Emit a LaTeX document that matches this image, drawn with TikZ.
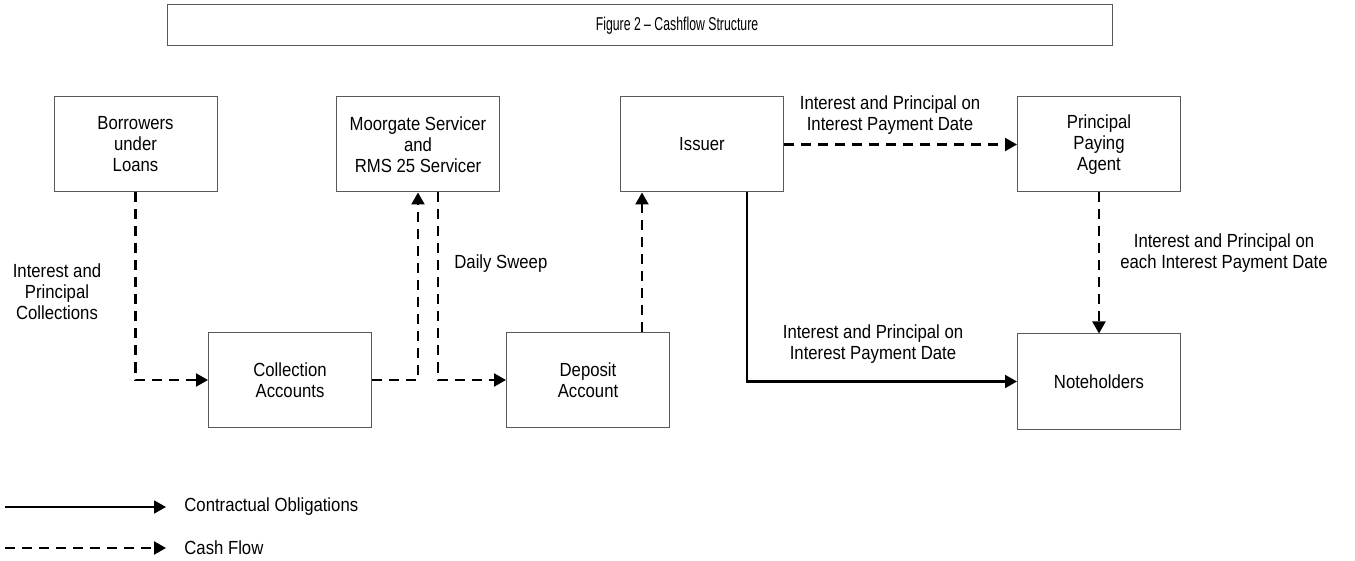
\documentclass[tikz,border=0pt]{standalone}
\usepackage{fontspec}
\setmainfont{Liberation Sans}[FakeStretch=0.88]
\newfontfamily\titlefont{Liberation Sans}[FakeStretch=0.66]
\usetikzlibrary{positioning,calc,arrows.meta}

\begin{document}
\begin{tikzpicture}[x=0.5pt,y=-0.5pt,
  font=\fontsize{9.5}{10.5}\selectfont,
  party/.style={draw=black!65, line width=0.5pt, minimum width=81.5pt, minimum height=47.5pt, align=center, inner sep=2pt},
  cash/.style={line width=1.1pt, dash pattern=on 5pt off 3.5pt, -{Triangle[length=6pt,width=6.5pt]}},
  duty/.style={line width=1.1pt, -{Triangle[length=6pt,width=6.5pt]}},
  lbl/.style={align=center, inner sep=0pt}]

\useasboundingbox (0,0) rectangle (1355,561);

\node[
   draw=black!65,
   line width=0.5pt,
   minimum width=472.5pt,
   minimum height=20.5pt,
   font=\titlefont\fontsize{9.3}{10}\selectfont
] (title) at (639.5,25.5) {\hspace*{37.5pt}Figure 2 – Cashflow Structure};

\node[party] (borrowers) at (135.5,144.5) {Borrowers\\under\\Loans};
\node[party] (servicer) at (418,144.5) {Moorgate Servicer\\and\\RMS 25 Servicer};
\node[party] (issuer) at (702,144.5) {Issuer};
\node[party] (agent) at (1099,144.5) {Principal\\Paying\\Agent};
\node[party] (collection) at (290,380) {Collection\\Accounts};
\node[party] (deposit) at (588,380) {Deposit\\Account};
\node[party, below = 70.5pt of agent] (noteholders) {Noteholders};

% Labels
\node[lbl] (collectlbl) at (57,292) {Interest and\\Principal\\Collections};
\node[lbl, anchor=west] (sweeplbl) at (454,264) {Daily Sweep};
\node[lbl] (ipdtop) at (890,115) {Interest and Principal on\\Interest Payment Date};
\node[lbl] (ipdlow) at (873,344) {Interest and Principal on\\Interest Payment Date};
\node[lbl] (ipdeach) at (1224,253) {Interest and Principal on\\each Interest Payment Date};

% Connecting Arrows
\draw[cash] (borrowers.south) |- (collection.west);
\draw[cash] (collection.east) -| (servicer.south);
\draw[cash] ([xshift=10pt]servicer.south) |- (deposit.west);
\draw[cash] ([xshift=-30pt]issuer.south |- deposit.north) -- ([xshift=-30pt]issuer.south);
\draw[cash] (issuer.east) -- (agent.west);
\draw[cash] (agent.south) -- (noteholders.north);
\draw[duty] ([xshift=22.5pt]issuer.south) |- (noteholders.west);

% Legend
\node[lbl, anchor=west] (legduty) at (184,507) {Contractual Obligations};
\node[lbl, anchor=west] (legcash) at (184,548) {Cash Flow};
\coordinate (legdutystart) at (5,507);
\coordinate (legcashstart) at (5,548);
\draw[duty, line width=0.9pt] (legdutystart) -- ([xshift=-9pt]legduty.west);
\draw[cash] (legcashstart) -- ([xshift=-9pt]legcash.west);

\end{tikzpicture}
\end{document}
